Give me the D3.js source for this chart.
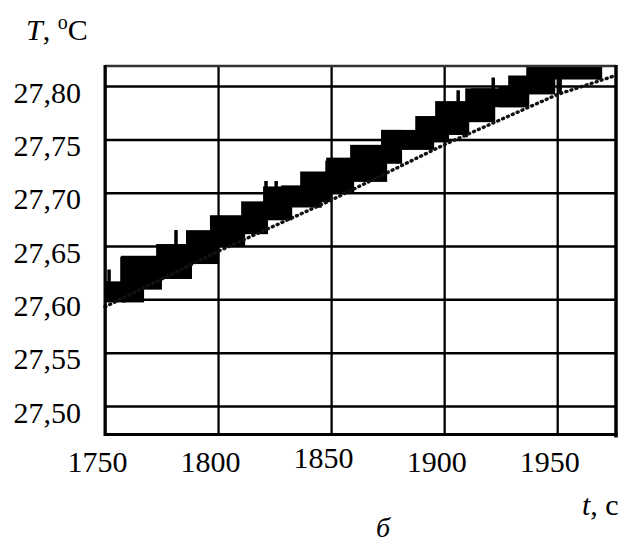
<!DOCTYPE html>
<html><head><meta charset="utf-8">
<script src="https://cdn.jsdelivr.net/npm/d3@7"></script>
<style>
html,body{margin:0;padding:0;background:#fff;}
svg{display:block;}
</style></head>
<body>
<svg id="chart" width="625" height="546"></svg>
<script>
// ---- data ----
const xTicks = [1750, 1800, 1850, 1900, 1950];
const yTicks = [27.50, 27.55, 27.60, 27.65, 27.70, 27.75, 27.80];
const xTickLabels = ["1750", "1800", "1850", "1900", "1950"];
const yTickLabels = ["27,50", "27,55", "27,60", "27,65", "27,70", "27,75", "27,80"];

// measured signal: quantised temperature flickering between levels (blocks)
const blockStart = [1750, 1758.4, 1758.0, 1773.5, 1786.7, 1797.3, 1811.1, 1820.8, 1828.8, 1837.2, 1848.7, 1859.3, 1873.0, 1873.0, 1888.1, 1896.9, 1910.2, 1912.8, 1924.8, 1929.2, 1937.2, 1938.1];
const blockEnd   = [1758.4, 1766.4, 1774.3, 1787.6, 1799.6, 1811.1, 1821.2, 1831.9, 1843.8, 1849.6, 1859.3, 1873.9, 1894.7, 1880.5, 1901.3, 1910.2, 1921.7, 1936.7, 1936.7, 1948.2, 1948.2, 1969.0];
const blockLow   = [27.599, 27.599, 27.611, 27.621, 27.635, 27.651, 27.663, 27.676, 27.688, 27.693, 27.701, 27.712, 27.742, 27.729, 27.749, 27.756, 27.768, 27.782, 27.782, 27.794, 27.798, 27.808];
const blockHigh  = [27.615, 27.612, 27.639, 27.650, 27.663, 27.677, 27.690, 27.704, 27.705, 27.718, 27.731, 27.743, 27.757, 27.757, 27.770, 27.784, 27.796, 27.796, 27.798, 27.808, 27.818, 27.818];

// single-sample spikes of the measured signal
const spikeT    = [1751.8, 1757.5, 1781.4, 1815.5, 1821.2, 1825.7, 1845.1, 1848.2, 1858.8, 1873.0, 1906.2, 1909.7, 1921.7, 1930.5, 1941.2, 1951.3, 1968.1];
const spikeLow  = [27.599, 27.605, 27.640, 27.660, 27.690, 27.690, 27.686, 27.716, 27.699, 27.713, 27.784, 27.752, 27.796, 27.796, 27.800, 27.793, 27.806];
const spikeHigh = [27.628, 27.640, 27.665, 27.670, 27.711, 27.711, 27.700, 27.730, 27.715, 27.730, 27.796, 27.765, 27.808, 27.808, 27.810, 27.808, 27.812];

// dotted reference (computed) line
const refT = [1750, 1800, 1850, 1900, 1950, 1976];
const refV = [27.593, 27.645, 27.693, 27.745, 27.792, 27.810];

// ---- layout ----
const FONT = '"Liberation Serif", Tinos, "DejaVu Serif", "Noto Serif", "Times New Roman", serif';
const L = 105, R = 616, T = 66, B = 434.5;
const svg = d3.select("#chart");
svg.append("rect").attr("width", 625).attr("height", 546).attr("fill", "#fff");

const x = d3.scaleLinear().domain([1750, 1976]).range([L, R]);
const y = d3.scaleLinear().domain([27.4733, 27.8188]).range([B, T]);

svg.append("clipPath").attr("id", "plotclip")
  .append("rect").attr("x", L).attr("y", T).attr("width", R - L).attr("height", B - T);

// grid via axes
const gx = svg.append("g").attr("transform", `translate(0,${B})`)
  .call(d3.axisBottom(x).tickValues(xTicks).tickSize(-(B - T))
    .tickFormat((d, i) => xTickLabels[i]));
gx.attr("font-family", null).attr("font-size", null);
gx.select(".domain").remove();
gx.selectAll(".tick line").attr("stroke", "#000").attr("stroke-width", 2.3);
gx.selectAll(".tick text")
  .style("font-family", FONT).style("font-size", "30px").attr("fill", "#000")
  .attr("dy", 0).attr("x", -8)
  .attr("y", d => d === 1850 ? 33.5 : 37.5);

const gy = svg.append("g").attr("transform", `translate(${L},0)`)
  .call(d3.axisLeft(y).tickValues(yTicks).tickSize(-(R - L))
    .tickFormat((d, i) => yTickLabels[i]));
gy.attr("font-family", null).attr("font-size", null);
gy.select(".domain").remove();
gy.selectAll(".tick line").attr("stroke", "#000").attr("stroke-width", 2.5);
gy.selectAll(".tick text")
  .style("font-family", FONT).style("font-size", "30px").attr("fill", "#000")
  .attr("dy", 0).attr("x", -24).attr("y", 16);

// data
const plot = svg.append("g").attr("clip-path", "url(#plotclip)");
const blocks = blockStart.map((s, i) => ({s, e: blockEnd[i], lo: blockLow[i], hi: blockHigh[i]}));
plot.selectAll("rect.blk").data(blocks).enter().append("rect")
  .attr("class", "blk")
  .attr("x", d => x(d.s)).attr("width", d => x(d.e) - x(d.s))
  .attr("y", d => y(d.hi)).attr("height", d => y(d.lo) - y(d.hi))
  .attr("fill", "#000").attr("stroke", "#000").attr("stroke-width", 4);

const spikes = spikeT.map((t, i) => ({t, lo: spikeLow[i], hi: spikeHigh[i]}));
plot.selectAll("line.spk").data(spikes).enter().append("line")
  .attr("x1", d => x(d.t)).attr("x2", d => x(d.t))
  .attr("y1", d => y(d.lo)).attr("y2", d => y(d.hi))
  .attr("stroke", "#000").attr("stroke-width", 3.5);

const refLine = d3.line().x(d => x(d[0])).y(d => y(d[1]));
svg.append("path").datum(refT.map((t, i) => [t, refV[i]]))
  .attr("d", refLine).attr("fill", "none")
  .attr("stroke", "#111").attr("stroke-width", 3.4)
  .attr("stroke-linecap", "round").attr("stroke-dasharray", "1,4.3");

// frame
svg.append("line").attr("x1", L).attr("x2", R).attr("y1", T).attr("y2", T).attr("stroke", "#333").attr("stroke-width", 2.5);
svg.append("line").attr("x1", L).attr("x2", R + 1.5).attr("y1", B).attr("y2", B).attr("stroke", "#000").attr("stroke-width", 3);
svg.append("line").attr("x1", L).attr("x2", L).attr("y1", T - 1).attr("y2", B + 1.5).attr("stroke", "#000").attr("stroke-width", 3);
svg.append("line").attr("x1", R).attr("x2", R).attr("y1", T - 1).attr("y2", B + 3).attr("stroke", "#000").attr("stroke-width", 3.5);

// axis titles
function txt(xp, yp, fs) {
  return svg.append("text").attr("x", xp).attr("y", yp)
    .style("font-family", FONT).style("font-size", fs + "px").attr("fill", "#000");
}
const yt = txt(26, 40, 30);
yt.append("tspan").style("font-style", "italic").text("T");
yt.append("tspan").text(", ");
yt.append("tspan").style("font-size", "20px").attr("dy", -11).text("o");
yt.append("tspan").attr("dy", 11).text("C");

const xt = txt(582, 515, 30);
xt.append("tspan").style("font-style", "italic").text("t");
xt.append("tspan").text(", c");

txt(383, 537, 28).style("font-style", "italic").attr("text-anchor", "middle").text("б");
</script>
</body></html>
